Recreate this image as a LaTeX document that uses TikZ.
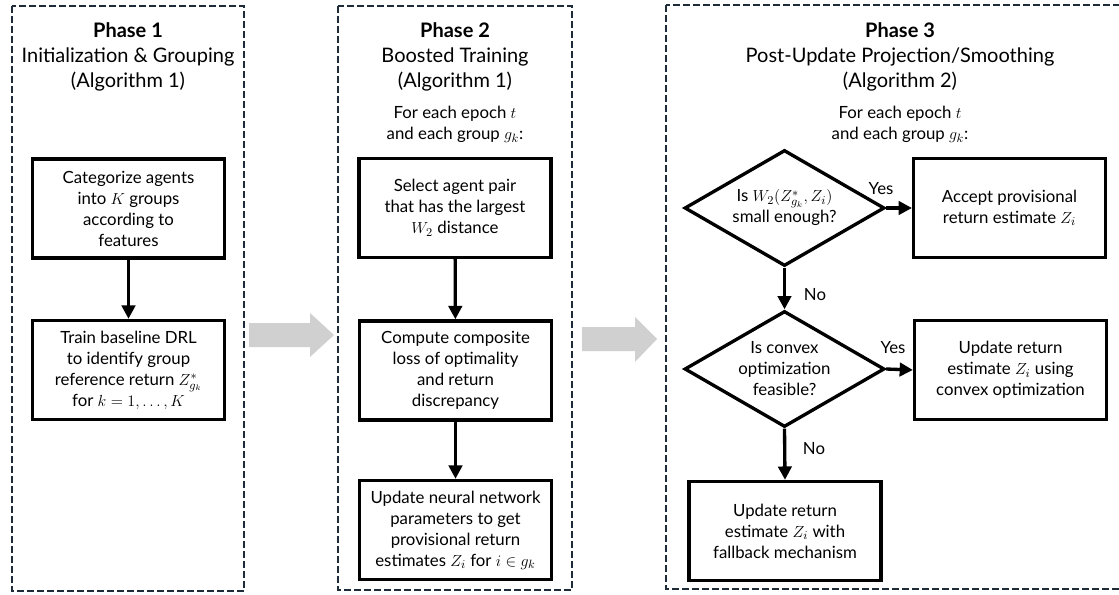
\documentclass[tikz,border=0pt]{standalone}
\usepackage{fontspec}
\setmainfont{Lato}
\usetikzlibrary{shapes.geometric,arrows.meta}
\definecolor{dashcol}{HTML}{1E2B38}
\definecolor{graycol}{HTML}{D0D0D0}
\tikzset{
  phasebox/.style={draw=dashcol, line width=1.5pt, dash pattern=on 5pt off 2.5pt},
  stepbox/.style={draw=black, line width=2.5pt, rectangle, minimum width=143.8pt, minimum height=74.3pt, align=center, inner sep=0pt, font=\fontsize{12.6}{15.75}\selectfont},
  decision/.style={draw=black, line width=2.5pt, diamond, shape aspect=1.72, minimum width=150pt, minimum height=87pt, inner sep=0pt, align=center, font=\fontsize{12.6}{15.75}\selectfont},
  flow/.style={line width=2.5pt, -{Triangle[width=10pt,length=10pt]}},
  titletext/.style={align=center, inner sep=0pt, font=\fontsize{15}{18.75}\selectfont},
  subtext/.style={align=center, inner sep=0pt, font=\fontsize{12.6}{15.75}\selectfont},
  lbl/.style={inner sep=0pt, font=\fontsize{12.6}{14}\selectfont},
  bigarrow/.style={fill=graycol, draw=none},
}
\begin{document}
\begin{tikzpicture}[x=0.75pt,y=-0.75pt]
\clip (0,0) rectangle (1119,595);
\useasboundingbox (0,0) rectangle (1119,595);

% phase frames
\draw[phasebox] (12,6) rectangle (244,591);
\draw[phasebox] (338,6) rectangle (572,590);
\draw[phasebox] (666,5) rectangle (1124,589);

% big gray arrows
\fill[bigarrow] (249,323) -- (310,323) -- (310,313) -- (334,335) -- (310,357) -- (310,347) -- (249,347) -- cycle;
\fill[bigarrow] (582,327) -- (635,327) -- (635,317) -- (657,339) -- (635,362) -- (635,351) -- (582,351) -- cycle;

% titles
\node[titletext] (t1) at (128,57) {\textbf{Phase 1}\\Initialization \& Grouping\\(Algorithm 1)};
\node[titletext] (t2) at (455,57) {\textbf{Phase 2}\\Boosted Training\\(Algorithm 1)};
\node[titletext] (t3) at (900,57) {\textbf{Phase 3}\\Post-Update Projection/Smoothing\\(Algorithm 2)};
\node[subtext] (s2) at (455,124.5) {For each epoch $t$\\and each group $g_k$:};
\node[subtext] (s3) at (900,124.5) {For each epoch $t$\\and each group $g_k$:};

% phase 1
\node[stepbox] (a1) at (128.5,208.5) {Categorize agents\\into $K$ groups\\according to\\features};
\node[stepbox] (b1) at (128.5,370) {Train baseline DRL\\to identify group\\reference return $Z^*_{g_k}$\\for $k=1,\ldots,K$};
\draw[flow] (a1) -- (b1);

% phase 2
\node[stepbox] (a2) at (455,208) {Select agent pair\\that has the largest\\$W_2$ distance};
\node[stepbox] (b2) at (455.5,370.5) {Compute composite\\loss of optimality\\and return\\discrepancy};
\node[stepbox] (c2) at (455.5,530) {Update neural network\\parameters to get\\provisional return\\estimates $Z_i$ for $i\in g_k$};
\draw[flow] (a2) -- (b2);
\draw[flow] (b2) -- (c2);

% phase 3
\node[decision] (d1) at (784.5,208) {Is $W_2\big(Z^*_{g_k},Z_i\big)$\\small enough?};
\node[decision] (d2) at (784.5,369) {Is convex\\optimization\\feasible?};
\node[stepbox] (a3) at (1009.5,208) {Accept provisional\\return estimate $Z_i$};
\node[stepbox] (b3) at (1010.5,370) {Update return\\estimate $Z_i$ using\\convex optimization};
\node[stepbox] (c3) at (785,531) {Update return\\estimate $Z_i$ with\\fallback mechanism};
\draw[flow] (d1.east) -- (a3.west);
\draw[flow] (d1.south) -- (d2.north);
\draw[flow] (d2.east) -- (b3.west);
\draw[flow] (d2.south) -- (c3.north);
\node[lbl] (y1) at (881,189) {Yes};
\node[lbl] (n1) at (815,295) {No};
\node[lbl] (y2) at (893,348) {Yes};
\node[lbl] (n2) at (814,449) {No};
\end{tikzpicture}
\end{document}
